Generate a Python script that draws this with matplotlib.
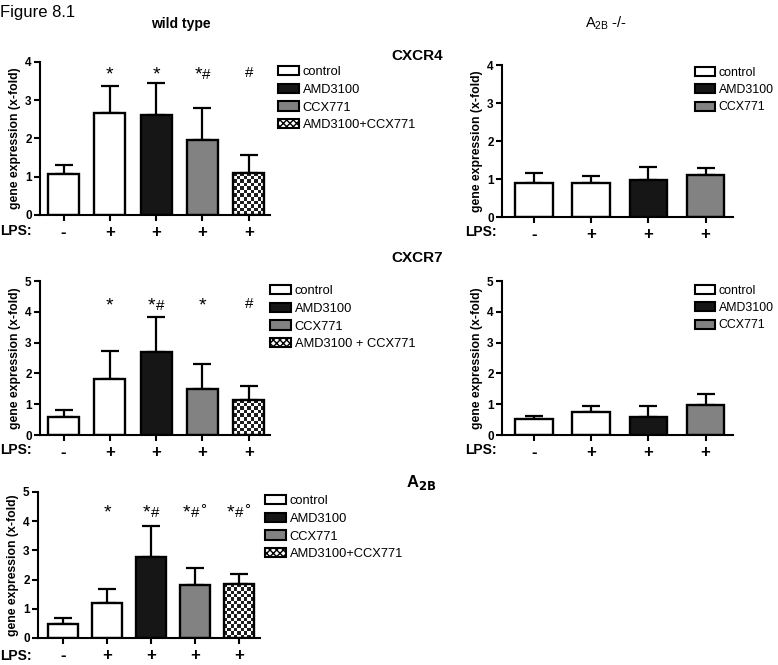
import numpy as np
import matplotlib
matplotlib.use("Agg")
import matplotlib.pyplot as plt
from matplotlib.patches import Patch
from matplotlib.colors import ListedColormap

plt.rcParams['font.family'] = ['Liberation Sans', 'DejaVu Sans']

W, H = 778, 665

# data
lps_wt = ["-", "+", "+", "+", "+"]
lps_ko = ["-", "+", "+", "+"]
treat_wt = ["control", "control", "AMD3100", "CCX771", "combo"]
treat_ko = ["control", "control", "AMD3100", "CCX771"]

cxcr4_wt = [1.07, 2.67, 2.62, 1.96, 1.11]
cxcr4_wt_err = [0.25, 0.71, 0.84, 0.84, 0.46]
cxcr4_wt_sig = ["", "*", "*", "*#", "#"]

cxcr4_ko = [0.90, 0.90, 0.97, 1.11]
cxcr4_ko_err = [0.26, 0.18, 0.34, 0.18]

cxcr7_wt = [0.57, 1.82, 2.70, 1.48, 1.15]
cxcr7_wt_err = [0.25, 0.90, 1.13, 0.82, 0.45]
cxcr7_wt_sig = ["", "*", "*#", "*", "#"]

cxcr7_ko = [0.52, 0.75, 0.60, 0.98]
cxcr7_ko_err = [0.11, 0.20, 0.35, 0.34]

a2b_wt = [0.48, 1.19, 2.78, 1.83, 1.84]
a2b_wt_err = [0.20, 0.49, 1.04, 0.58, 0.35]
a2b_wt_sig = ["", "*", "*#", "*#°", "*#°"]

colors = {"control": "white", "AMD3100": "#161616", "CCX771": "#828282", "combo": "white"}
checker_cmap = ListedColormap(["#1e1e1e", "white"])

fig = plt.figure(figsize=(W / 100, H / 100), dpi=100)


def add_ax(l, t, r, b):
    return fig.add_axes([l / W, 1 - b / H, (r - l) / W, (b - t) / H])


def checker(ax, patch):
    x0, y0 = patch.get_x(), patch.get_y()
    w, h = patch.get_width(), patch.get_height()
    p0 = ax.transData.transform((x0, y0))
    p1 = ax.transData.transform((x0 + w, y0 + h))
    nx = 9
    cell = (p1[0] - p0[0]) / nx
    ny = max(1, int(round((p1[1] - p0[1]) / cell)))
    img = np.add.outer(np.arange(ny), np.arange(nx)) % 2
    im = ax.imshow(img, cmap=checker_cmap, extent=(x0, x0 + w, y0, y0 + h),
                   aspect='auto', interpolation='nearest', zorder=1.5)
    im.set_clip_path(patch)


def sig_marks(ax, xpos, yval, marks):
    # size and glyph-centre height (px above baseline) of each symbol
    sizes = {"*": 14, "#": 11, "°": 11}
    glyph_mid = {"*": 11.4, "#": 5.4, "°": 9.0}
    for x, m in zip(xpos, marks):
        n = len(m)
        for i, ch in enumerate(m):
            dx = (i - (n - 1) / 2) * 8.5
            mid = 0
            if ch == "*":
                mid = 3.5
            if ch == "#" and i > 0:
                mid = -2
            if ch == "°":
                mid = 4.5
            base = mid - glyph_mid[ch]
            ax.annotate(ch, xy=(x, yval), xytext=(dx * 0.72, base * 0.72),
                        textcoords='offset points', ha='center', va='baseline',
                        fontsize=sizes[ch], annotation_clip=False)


def panel(rect, vals, errs, treat, lps, ymax, width, xlim, sig=None, sig_y=None,
          legend_pos=None, legend_labels=None, legend_size=9.3):
    ax = add_ax(*rect)
    x = np.arange(len(vals))
    bars = ax.bar(x, vals, width=width, color=[colors[t] for t in treat],
                  edgecolor='black', linewidth=1.7, zorder=2)
    ax.errorbar(x, vals, yerr=[np.zeros(len(vals)), errs], fmt='none',
                ecolor='black', elinewidth=1.6, capsize=6.5, capthick=1.6, zorder=1)
    ax.set_xlim(*xlim)
    ax.set_ylim(0, ymax)
    for b, t in zip(bars, treat):
        if t == "combo":
            b.set_facecolor('none')
            b.set_zorder(3)
            checker(ax, b)
    ax.set_xlim(*xlim)
    ax.set_ylim(0, ymax)
    ax.spines['top'].set_visible(False)
    ax.spines['right'].set_visible(False)
    ax.spines['left'].set_linewidth(1.5)
    ax.spines['bottom'].set_linewidth(1.5)
    ax.set_yticks(range(ymax + 1))
    ax.set_xticks(x)
    ax.set_xticklabels(lps, fontsize=12, fontweight='bold')
    ax.tick_params(axis='y', length=4, width=1.5, labelsize=8.5, pad=2)
    ax.tick_params(axis='x', length=4, width=1.5, pad=3.5)
    for lab in ax.get_yticklabels():
        lab.set_fontweight('bold')
    ax.set_ylabel("gene expression (x-fold)", fontsize=8.8, fontweight='bold', labelpad=3)
    if sig is not None:
        sig_marks(ax, x, sig_y, sig)
    handles = [Patch(facecolor='white', edgecolor='black', linewidth=1.5),
               Patch(facecolor=colors["AMD3100"], edgecolor='black', linewidth=1.5),
               Patch(facecolor=colors["CCX771"], edgecolor='black', linewidth=1.5),
               Patch(facecolor='white', edgecolor='black', linewidth=1.5, hatch='xxxxx')]
    handles = handles[:len(legend_labels)]
    lx, ly = legend_pos
    ax.legend(handles, legend_labels, loc='upper left',
              bbox_to_anchor=(lx / W, 1 - ly / H), bbox_transform=fig.transFigure,
              frameon=False, fontsize=legend_size, handlelength=1.6, handleheight=0.75,
              handletextpad=0.3, labelspacing=0.42, borderpad=0, borderaxespad=0)
    return ax


labels4 = ["control", "AMD3100", "CCX771", "AMD3100+CCX771"]
labels4b = ["control", "AMD3100", "CCX771", "AMD3100 + CCX771"]
labels3 = ["control", "AMD3100", "CCX771"]

panel((40, 62, 270, 215), cxcr4_wt, cxcr4_wt_err, treat_wt, lps_wt, 4, 0.67,
      (-0.51, 4.46), cxcr4_wt_sig, 3.74, (278, 66), labels4)
panel((502, 65, 733, 217), cxcr4_ko, cxcr4_ko_err, treat_ko, lps_ko, 4, 0.66,
      (-0.56, 3.48), legend_pos=(695, 67), legend_labels=labels3, legend_size=8.9)
panel((40, 281, 270, 435), cxcr7_wt, cxcr7_wt_err, treat_wt, lps_wt, 5, 0.67,
      (-0.51, 4.46), cxcr7_wt_sig, 4.30, (270, 285), labels4b)
panel((502, 281, 733, 435), cxcr7_ko, cxcr7_ko_err, treat_ko, lps_ko, 5, 0.66,
      (-0.56, 3.48), legend_pos=(695, 285), legend_labels=labels3, legend_size=8.9)
panel((38, 492, 260, 638), a2b_wt, a2b_wt_err, treat_wt, lps_wt, 5, 0.68,
      (-0.57, 4.48), a2b_wt_sig, 4.40, (265, 495), labels4)

# figure texts
fig.text(0 / W, 1 - 13 / H, "Figure 8.1", fontsize=12, va='center', ha='left')
fig.text(181 / W, 1 - 24 / H, "wild type", fontsize=10, fontweight='bold', va='center', ha='center')
fig.text(606 / W, 1 - 23 / H, r"A$_{\mathregular{2B}}$ -/-", fontsize=10.5, va='center', ha='center')
fig.text(417 / W, 1 - 56 / H, "CXCR4", fontsize=11, fontweight='bold', va='center', ha='center')
fig.text(417 / W, 1 - 258 / H, "CXCR7", fontsize=11, fontweight='bold', va='center', ha='center')
fig.text(421 / W, 1 - 483 / H, r"A$_{\mathbf{2B}}$", fontsize=12, fontweight='bold', va='center', ha='center')
for (lx, ly) in [(0, 231), (465, 232), (0, 450), (465, 450), (0, 656)]:
    fig.text(lx / W, 1 - ly / H, "LPS:", fontsize=10, fontweight='bold', va='center', ha='left')

fig.savefig("out.png", dpi=100)
